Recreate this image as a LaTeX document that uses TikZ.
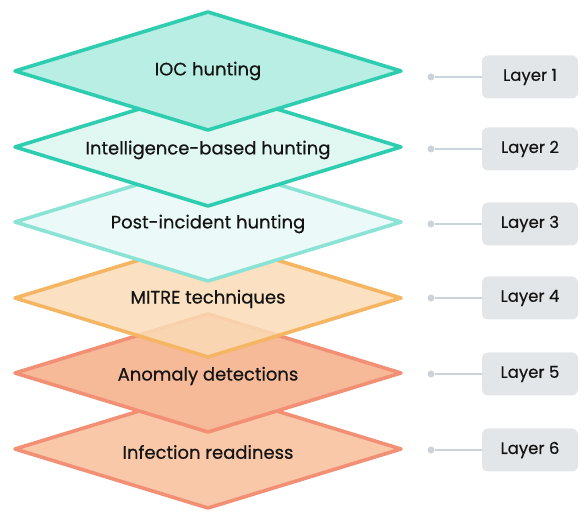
\documentclass[tikz,border=0pt]{standalone}
\usepackage{fontspec}
\setmainfont{Poppins}[FakeBold=0.5]
\definecolor{tealS}{HTML}{2ECDB0}
\definecolor{tealL}{HTML}{8AE3D4}
\definecolor{orS}{HTML}{F5B562}
\definecolor{salS}{HTML}{F28F74}
\definecolor{f1}{HTML}{B8EEE4}
\definecolor{f2}{HTML}{E0F7F2}
\definecolor{f3}{HTML}{EBFAF8}
\definecolor{f4}{HTML}{FADCB6}
\definecolor{f5}{HTML}{F6BA98}
\definecolor{f6}{HTML}{F8C8A8}
\definecolor{boxF}{HTML}{E3E6E9}
\definecolor{lineC}{HTML}{CDD4D9}
\definecolor{txt}{HTML}{141414}
\tikzset{
  slab/.style={line width=3.6pt, line join=round},
  slabtext/.style={font=\fontsize{18}{20}\selectfont, text=txt, inner sep=0pt},
  laybox/.style={fill=boxF, rounded corners=6pt, minimum width=96pt, minimum height=43pt, inner sep=0pt, font=\fontsize{16.5}{18}\selectfont, text=txt},
  laydot/.style={circle, fill=lineC, minimum size=7pt, inner sep=0pt},
  layline/.style={lineC, line width=2pt}
}
\newcommand{\slabshape}[1]{(15,#1) -- (208,#1-59) -- (401,#1) -- (208,#1+59) -- cycle}
\begin{document}
\begin{tikzpicture}[x=1pt,y=-1pt]
\useasboundingbox (0,0) rectangle (587,518);
% slabs bottom to top
\draw[slab, draw=salS, fill=f6] \slabshape{449};
\node[slabtext] (s6) at (208,452) {Infection readiness};
\draw[slab, draw=salS, fill=f5] \slabshape{373};
\node[slabtext] (s5) at (208,376) {Anomaly detections};
\draw[slab, draw=orS, fill=f4, fill opacity=0.85] \slabshape{298};
\node[slabtext] (s4) at (208,299) {MITRE techniques};
\draw[slab, draw=tealL, fill=f3] \slabshape{222};
\node[slabtext] (s3) at (208,224) {Post-incident hunting};
\draw[slab, draw=tealS, fill=f2] \slabshape{147};
\node[slabtext] (s2) at (208,150) {Intelligence-based hunting};
\draw[slab, draw=tealS, fill=f1] \slabshape{71};
\node[slabtext] (s1) at (208,71) {IOC hunting};
% labels
\foreach \i/\y in {1/77,2/149,3/224,4/298,5/374,6/450}{
  \node[laybox] (b\i) at (530,\y) {Layer \i};
  \node[laydot] (d\i) at (431,\y) {};
  \draw[layline] (d\i) -- (b\i.west);
}
\end{tikzpicture}
\end{document}
